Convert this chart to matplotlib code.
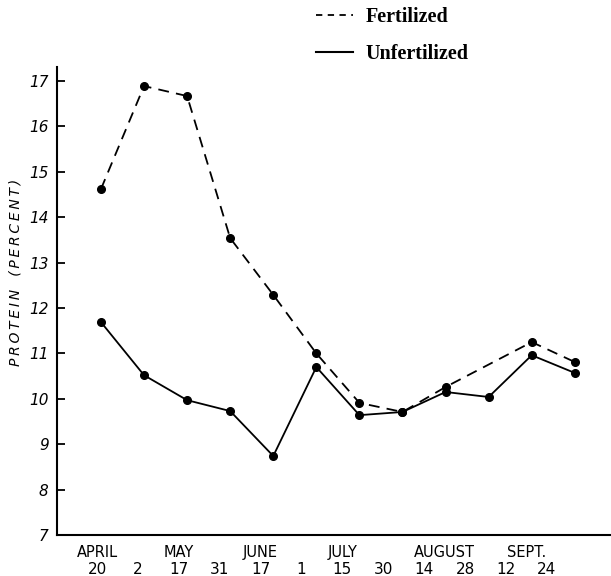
import numpy as np
import matplotlib
matplotlib.use('Agg')
import matplotlib.pyplot as plt
from matplotlib.lines import Line2D

# sampling dates (one per x slot)
months = ['APRIL', 'MAY', 'JUNE', 'JULY', 'AUGUST', 'SEPT.']
month_slots = [0, 2, 4, 6, 8.5, 10.5]
days = ['20', '2', '17', '31', '17', '1', '15', '30', '14', '28', '12', '24']

# protein percent (no fertilized sample on Aug 28)
fertilized = [14.62, 16.89, 16.67, 13.54, 12.29, 11.0, 9.91, 9.71, 10.26, np.nan, 11.25, 10.81]
unfertilized = [11.69, 10.52, 9.97, 9.73, 8.74, 10.70, 9.64, 9.71, 10.15, 10.04, 10.96, 10.57]

x = np.arange(len(days))
fert = np.array(fertilized)
unf = np.array(unfertilized)
ok = np.isfinite(fert)

fig = plt.figure(figsize=(6.11, 5.76), dpi=100)
ax = fig.add_axes([0.0933, 0.0712, 0.9067, 0.8125])

ax.plot(x[ok], fert[ok], color='black', lw=1.3, dashes=(6, 4),
        marker='o', ms=5.5)
ax.plot(x, unf, color='black', lw=1.3, marker='o', ms=5.5)

ax.set_xlim(-1.02, 11.84)
ax.set_ylim(7, 17.31)
ax.set_yticks(range(7, 18))
ax.tick_params(axis='y', direction='in', length=6, width=1.3, labelsize=11, pad=6)
for lab in ax.get_yticklabels():
    lab.set_fontstyle('italic')
ax.set_xticks([])

for s in ['top', 'right']:
    ax.spines[s].set_visible(False)
for s in ['left', 'bottom']:
    ax.spines[s].set_linewidth(1.5)

# date labels under the axis, slightly compressed like the original
lab_pos = -0.09 + x * 0.949
for p, d in zip(lab_pos, days):
    ax.text(p, -0.058, d, transform=ax.get_xaxis_transform(), ha='center',
            va='top', fontsize=11)
for slot, m in zip(month_slots, months):
    ax.text(-0.09 + slot * 0.949, -0.022, m, transform=ax.get_xaxis_transform(),
            ha='center', va='top', fontsize=10.5)

ylab = '\u2009'.join('PROTEIN (PERCENT)').replace('\u2009 \u2009', '   ')
ax.set_ylabel(ylab, fontsize=10, fontstyle='italic')
ax.yaxis.set_label_coords(-0.062, 0.56)

handles = [Line2D([], [], color='black', lw=1.3, dashes=(3.5, 3)),
           Line2D([], [], color='black', lw=1.5)]
fig.legend(handles, ['Fertilized', 'Unfertilized'], loc='upper left',
           bbox_to_anchor=(0.498, 1.009), frameon=False, borderpad=0.1,
           handlelength=1.8, handletextpad=0.65, labelspacing=0.85,
           prop={'family': 'Liberation Serif', 'weight': 'bold', 'size': 14.5})

fig.savefig('out.png', dpi=100)
